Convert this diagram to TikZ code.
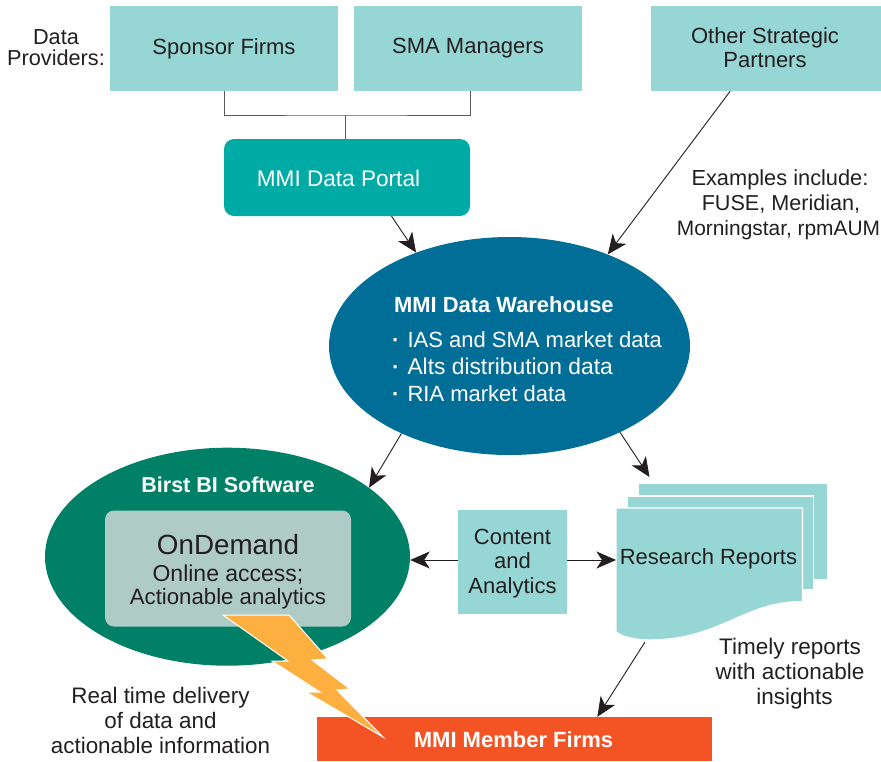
\documentclass[tikz,border=0pt]{standalone}
\usepackage{fontspec}
\setmainfont{Liberation Sans}
\usetikzlibrary{arrows.meta,shapes.geometric}
\definecolor{paleteal}{HTML}{96D7D5}
\definecolor{portalteal}{HTML}{00ABA6}
\definecolor{whblue}{HTML}{006E96}
\definecolor{birstgreen}{HTML}{008066}
\definecolor{odbox}{HTML}{AFCBC5}
\definecolor{memberred}{HTML}{F45323}
\definecolor{boltgold}{HTML}{FDB040}
\definecolor{ink}{HTML}{231F20}
\newcommand{\fsz}[1]{\fontsize{#1}{24.5}\selectfont}
\tikzset{
  x=1pt,y=-1pt,
  body/.style={font=\fontsize{22}{24.5}\selectfont,text=ink,align=center,inner sep=0pt},
  boldwhite/.style={font=\fontsize{21.5}{24}\selectfont\bfseries,text=white,align=center,inner sep=0pt},
  tealbox/.style={fill=paleteal,inner sep=0pt,body},
  arrowline/.style={draw=ink,line width=0.9pt,-{Stealth[length=19.5pt,width=17pt,inset=5.5pt]}},
  joinline/.style={draw=ink!75,line width=0.9pt},
  sheet/.style={fill=paleteal,draw=white,line width=1.4pt}
}
\begin{document}
\begin{tikzpicture}
\useasboundingbox (0,0) rectangle (881,761);
\fill[white] (0,0) rectangle (881,761);

% Top row
\node[body,font=\fontsize{21.7}{21}\selectfont] (providers) at (56,48) {Data\hspace{6pt}\\Providers:};
\node[tealbox,minimum width=228pt,minimum height=85pt] (sponsor) at (224,48.5) {Sponsor Firms};
\node[tealbox,minimum width=228pt,minimum height=85pt] (sma) at (468,48.5) {SMA Managers};
\node[fill=paleteal,minimum width=230pt,minimum height=85pt,inner sep=0pt] (other) at (766,48.5) {};
\node[body] (othertext) at (765,47.5) {Other Strategic\\Partners};
\node[fill=portalteal,rounded corners=10pt,minimum width=246pt,minimum height=77pt,inner sep=0pt] (portal) at (347,177.5) {};
\node[body,text=white,font=\fontsize{22.6}{24.5}\selectfont] (portaltext) at (338.5,178) {MMI Data Portal};
\node[body] (examples) at (778.5,204.5) {{\fsz{21.8}\hspace{3pt}Examples include:}\\[0.5pt]{\fsz{21.6}\hspace{5pt}FUSE, Meridian,}\\[0.5pt]{\fsz{20.9}Morningstar, rpmAUM}};

% Warehouse
\node[ellipse,fill=whblue,minimum width=361pt,minimum height=218pt,inner sep=0pt] at (509.5,346) (wh) {};
\node[boldwhite,anchor=west,font=\fontsize{21.9}{24}\selectfont\bfseries] (whtitle) at (394,305) {MMI Data Warehouse};
\node[body,text=white,anchor=west,align=left,font=\fontsize{22}{27}\selectfont] (whlist) at (392,366.5) {{\bfseries\textperiodcentered}\hspace{8pt}IAS and SMA market data\\{\bfseries\textperiodcentered}\hspace{8pt}{\fontsize{22.8}{27}\selectfont Alts distribution data}\\{\bfseries\textperiodcentered}\hspace{8pt}RIA market data};

% Birst
\node[ellipse,fill=birstgreen,minimum width=365pt,minimum height=218pt,inner sep=0pt] at (227.5,556.7) (birst) {};
\node[boldwhite] (birsttitle) at (228,485) {Birst BI Software};
\node[fill=odbox,rounded corners=9pt,minimum width=246pt,minimum height=116pt,inner sep=0pt] (ondemand) at (228,568.5) {};
\node[body,font=\fontsize{27.8}{30}\selectfont] (odtitle) at (228,545) {OnDemand};
\node[body,font=\fontsize{23}{24}\selectfont] (odtext1) at (228,575) {Online access;};
\node[body,font=\fontsize{22.2}{24}\selectfont] (odtext2) at (228,599) {Actionable analytics};

% Content
\node[fill=paleteal,minimum width=109pt,minimum height=104pt,inner sep=0pt] (content) at (512.5,562) {};
\node[body] (contenttext) at (512.5,563.5) {Content\\and\\Analytics};

% Reports stack
\fill[paleteal,draw=white,line width=1pt] (638.7,483.3) rectangle (827.5,579);
\fill[paleteal,draw=white,line width=1.4pt] (627.3,496) rectangle (813.7,589.3);
\path[sheet] (616,508) -- (802.5,508) -- (802.5,601.7)
  .. controls (745,601) and (720,640) .. (650,640)
  .. controls (635,640) and (622,637) .. (616,632) -- cycle;
\node[body] (reports) at (708.5,559) {Research Reports};
\coordinate (reporttop) at (649.5,477);
\coordinate (reportleft) at (616,560);
\coordinate (reportfoot) at (645,642);
\node[body,font=\fontsize{22.5}{24.5}\selectfont] (timely) at (790,673.5) {Timely reports\\[0.5pt]with actionable\\[0.5pt]\hspace{9pt}insights};

% Member firms
\node[fill=memberred,minimum width=395pt,minimum height=44pt,inner sep=0pt] (member) at (514.5,739) {};
\node[boldwhite,font=\fontsize{22}{24}\selectfont\bfseries] (membertext) at (513.5,739.5) {MMI Member Firms};
\node[body,font=\fontsize{22.4}{24.5}\selectfont] (realtime) at (160.5,720.5) {Real time delivery\\[0.3pt]of data and\\[0.3pt]actionable information};

% Lightning bolt
\path[fill=boltgold,draw=white,line width=1pt,line join=miter] (223,615) -- (289,615) -- (328,659) -- (312,660) -- (350,689) -- (337,690) -- (383,737) -- (306,692) -- (320,692) -- (272,661) -- (288,661) -- cycle;

% Connectors
\coordinate (bus) at (345,115);
\coordinate (smadrop) at (470,91);
\draw[joinline] (sponsor.south) |- (bus) -| (smadrop);
\draw[joinline] (bus) -- (bus |- portal.north);
\draw[arrowline] (portal.-41.8) -- (wh.135);
\draw[arrowline] (other.-130.3) -- (wh.43.6);
\draw[arrowline] (wh.219.2) -- (birst.26.3);
\draw[arrowline] (wh.-38.5) -- (reporttop);
\draw[arrowline] ([yshift=2pt]content.west) -- ([yshift=2pt]content.west -| birst.east);
\draw[arrowline] ([yshift=2pt]content.east) -- (reportleft);
\draw[arrowline] (reportfoot) -- (member.15.66);
\end{tikzpicture}
\end{document}
